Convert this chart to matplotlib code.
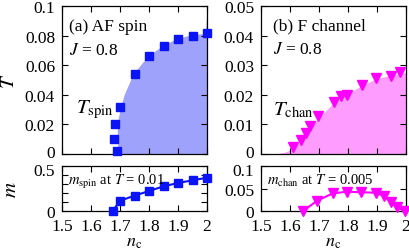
import matplotlib
matplotlib.use("Agg")
import matplotlib.pyplot as plt
import matplotlib.transforms as mtransforms
import numpy as np

plt.rcParams['font.family'] = ['Liberation Serif', 'DejaVu Serif']
plt.rcParams['mathtext.fontset'] = 'stix'

# ---- data ----
nc_spin = [1.69, 1.68, 1.683, 1.70, 1.75, 1.80, 1.85, 1.90, 1.95, 2.0]
T_spin = [0.002, 0.01, 0.02, 0.032, 0.054, 0.066, 0.073, 0.078, 0.080, 0.0815]
# boundary of shaded region (a)
fillT_spin = [0.0, 0.02, 0.03, 0.04, 0.054, 0.066, 0.073, 0.078, 0.0805, 0.0815, 0.1]
fillnc_spin = [1.693, 1.69, 1.70, 1.714, 1.745, 1.795, 1.845, 1.895, 1.945, 1.995, 2.0]

nc_chan = [1.611, 1.639, 1.656, 1.669, 1.698, 1.75, 1.776, 1.798, 1.848, 1.898, 1.948, 1.979]
T_chan = [0.0023, 0.0047, 0.0071, 0.0096, 0.0129, 0.0175, 0.0197, 0.020, 0.0233, 0.0257, 0.0265, 0.0276]
fillnc_chan = [1.545, 1.58, 1.61, 1.64, 1.67, 1.70, 1.75, 1.80, 1.85, 1.90, 1.95, 2.0]
fillT_chan = [0.0, 0.0005, 0.0018, 0.0045, 0.0085, 0.0123, 0.0172, 0.0205, 0.0232, 0.0255, 0.0266, 0.0275]

nc_mspin = [1.675, 1.70, 1.75, 1.80, 1.85, 1.90, 1.95, 2.0]
m_spin = [0.0, 0.114, 0.17, 0.222, 0.274, 0.311, 0.341, 0.37]

nc_mchan = [1.645, 1.694, 1.747, 1.797, 1.846, 1.896, 1.925, 1.948, 1.97, 1.995]
m_chan = [0.0, 0.023, 0.039, 0.043, 0.0415, 0.0407, 0.033, 0.021, 0.008, 0.0]

xticks = [1.5, 1.6, 1.7, 1.8, 1.9, 2.0]
xticklabels = ['1.5', '1.6', '1.7', '1.8', '1.9', '2']

blue = '#0a14f5'
bluefill = '#9ea2fa'
mag = '#ff00ff'
magfill = '#ff9cff'

W, H = 409, 251
fig = plt.figure(figsize=(W / 100, H / 100), dpi=100)

def ax_at(l, t, r, b):
    return fig.add_axes([l / W, 1 - b / H, (r - l) / W, (b - t) / H])

axa = ax_at(62, 7, 207, 155)
axb = ax_at(261, 7, 406, 155)
axc = ax_at(62, 167, 207, 212)
axd = ax_at(261, 167, 406, 212)

fs = 12.5
tfs = 12.5
for ax in (axa, axb, axc, axd):
    ax.set_xlim(1.5, 2.0)
    ax.set_xticks(xticks)
    ax.tick_params(direction='in', top=True, right=True, length=4, width=0.8,
                   labelsize=fs, pad=5)
    for s in ax.spines.values():
        s.set_linewidth(0.9)

for ax in (axa, axb):
    ax.set_xticklabels([])
for ax in (axc, axd):
    ax.set_xticklabels(xticklabels)
    ax.set_xlabel(r'$n_{\rm c}$', fontsize=13, labelpad=-1)

# (a)
axa.fill_betweenx(fillT_spin, fillnc_spin, 2.0, color=bluefill, lw=0)
axa.plot(nc_spin, T_spin, ls='none', marker='s', ms=5.5, color=blue, clip_on=False, zorder=3)
axa.set_ylim(0, 0.1)
axa.set_yticks([0, 0.02, 0.04, 0.06, 0.08, 0.1])
axa.set_yticklabels(['0', '0.02', '0.04', '0.06', '0.08', '0.1'])
axa.set_ylabel(r'$T$', fontsize=15, labelpad=4)
axa.text(0.05, 0.835, '(a) AF spin', transform=axa.transAxes, fontsize=tfs, va='baseline')
axa.text(0.05, 0.675, r'$J$ = 0.8', transform=axa.transAxes, fontsize=tfs, va='baseline')
axa.text(0.10, 0.285, r'$T_{\rm spin}$', transform=axa.transAxes, fontsize=15, va='baseline')

# (b)
axb.fill_between(fillnc_chan, fillT_chan, 0, color=magfill, lw=0)
axb.plot(nc_chan, T_chan, ls='none', marker='v', ms=6.5, color=mag, clip_on=False, zorder=3)
axb.set_ylim(0, 0.05)
axb.set_yticks([0, 0.01, 0.02, 0.03, 0.04, 0.05])
axb.set_yticklabels(['0', '0.01', '0.02', '0.03', '0.04', '0.05'])
axb.text(0.08, 0.845, '(b) F channel', transform=axb.transAxes, fontsize=tfs, va='baseline')
axb.text(0.08, 0.68, r'$J$ = 0.8', transform=axb.transAxes, fontsize=tfs, va='baseline')
axb.text(0.08, 0.27, r'$T_{\rm chan}$', transform=axb.transAxes, fontsize=15, va='baseline')

# (c)
axc.plot(nc_mspin, m_spin, marker='s', ms=5.5, color=blue, lw=1.5, clip_on=False, zorder=3)
axc.set_ylim(0, 0.5)
axc.set_yticks([0, 0.1, 0.2, 0.3, 0.4, 0.5])
axc.set_yticklabels(['0', '', '', '', '', '0.5'])
axc.set_ylabel(r'$m$', fontsize=15, labelpad=9)
axc.text(0.04, 0.6, r'$m_{\rm spin}$ at $T$ = 0.01', transform=axc.transAxes, fontsize=10.5, va='baseline')

# (d)
axd.plot(nc_mchan, m_chan, marker='v', ms=6.5, color=mag, lw=1.5, clip_on=False, zorder=3)
axd.set_ylim(0, 0.1)
axd.set_yticks([0, 0.05, 0.1])
axd.set_yticklabels(['0', '0.05', '0.1'])
axd.text(0.04, 0.6, r'$m_{\rm chan}$ at $T$ = 0.005', transform=axd.transAxes, fontsize=10.5, va='baseline')

# nudge neighbouring tick labels apart (top "0" up, bottom top-label down)
up = mtransforms.ScaledTranslation(0, 2.5 / 100, fig.dpi_scale_trans)
down = mtransforms.ScaledTranslation(0, -2.5 / 100, fig.dpi_scale_trans)
for ax in (axa, axb):
    lab = ax.yaxis.get_major_ticks()[0].label1
    lab.set_transform(lab.get_transform() + up)
for ax in (axc, axd):
    lab = ax.yaxis.get_major_ticks()[-1].label1
    lab.set_transform(lab.get_transform() + down)

fig.savefig('out.png', dpi=100)
